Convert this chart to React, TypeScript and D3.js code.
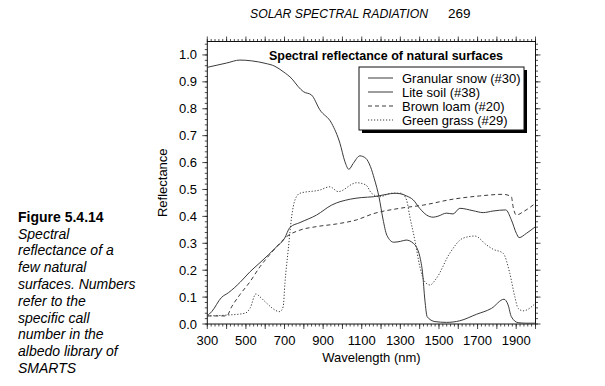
import React from 'react';
import * as d3 from 'd3';

// reflectance curves (wavelength nm / reflectance)
const snowWl = [300, 350, 400, 469, 530, 599, 650, 693, 740, 771, 797, 840, 883, 944, 987, 1013, 1033, 1056, 1090, 1121, 1145, 1165, 1190, 1210, 1230, 1265, 1300, 1330, 1367, 1384, 1401, 1415, 1427, 1439, 1479, 1539, 1608, 1694, 1772, 1837, 1858, 1875, 1910, 1950, 2000];
const snowR = [0.954, 0.962, 0.97, 0.981, 0.978, 0.969, 0.958, 0.938, 0.91, 0.882, 0.864, 0.851, 0.796, 0.746, 0.672, 0.603, 0.575, 0.597, 0.625, 0.616, 0.585, 0.54, 0.47, 0.39, 0.33, 0.304, 0.307, 0.312, 0.3, 0.285, 0.25, 0.19, 0.089, 0.027, 0.009, 0.006, 0.012, 0.036, 0.058, 0.092, 0.071, 0.027, 0.005, 0.003, 0.003];

const soilWl = [300, 323, 374, 409, 470, 521, 573, 659, 700, 728, 780, 866, 944, 1041, 1100, 1160, 1229, 1271, 1300, 1332, 1367, 1400, 1436, 1470, 1496, 1539, 1573, 1608, 1677, 1729, 1780, 1846, 1875, 1901, 1915, 1953, 2000];
const soilR = [0.03, 0.046, 0.099, 0.116, 0.155, 0.194, 0.228, 0.287, 0.318, 0.359, 0.377, 0.405, 0.442, 0.464, 0.47, 0.473, 0.482, 0.486, 0.484, 0.476, 0.461, 0.43, 0.405, 0.397, 0.401, 0.412, 0.409, 0.43, 0.421, 0.414, 0.42, 0.424, 0.387, 0.337, 0.321, 0.337, 0.362];

const loamWl = [300, 400, 426, 470, 521, 573, 620, 659, 711, 780, 866, 970, 1073, 1160, 1297, 1419, 1573, 1711, 1832, 1875, 1884, 1901, 1936, 2000];
const loamR = [0.03, 0.03, 0.064, 0.11, 0.157, 0.213, 0.255, 0.287, 0.325, 0.349, 0.362, 0.372, 0.387, 0.41, 0.43, 0.442, 0.464, 0.476, 0.482, 0.473, 0.436, 0.405, 0.417, 0.449];

const grassWl = [300, 400, 495, 521, 552, 573, 599, 676, 693, 702, 719, 737, 754, 780, 883, 935, 978, 1073, 1121, 1151, 1194, 1254, 1306, 1332, 1349, 1375, 1401, 1427, 1453, 1487, 1556, 1625, 1686, 1746, 1780, 1832, 1867, 1893, 1910, 1936, 2000];
const grassR = [0.03, 0.033, 0.04, 0.058, 0.112, 0.101, 0.083, 0.046, 0.064, 0.151, 0.275, 0.399, 0.461, 0.486, 0.498, 0.51, 0.492, 0.525, 0.517, 0.486, 0.473, 0.486, 0.486, 0.461, 0.399, 0.312, 0.213, 0.157, 0.145, 0.17, 0.263, 0.319, 0.327, 0.294, 0.278, 0.263, 0.188, 0.101, 0.058, 0.049, 0.077];

const seriesNames = ['Granular snow (#30)', 'Lite soil (#38)', 'Brown loam (#20)', 'Green grass (#29)'];
const xTickLabels = [300, 500, 700, 900, 1100, 1300, 1500, 1700, 1900];
const yTickLabels = [0, 0.1, 0.2, 0.3, 0.4, 0.5, 0.6, 0.7, 0.8, 0.9, 1.0];

const captionLines = ['Spectral', 'reflectance of a', 'few natural', 'surfaces. Numbers', 'refer to the', 'specific call', 'number in the', 'albedo library of', 'SMARTS'];

const FONT = '"Liberation Sans", Arial, Helvetica, sans-serif';
const INK = '#3a3a3a';

export default function App() {
  const left = 207.3, right = 535.5, top = 41.5, bottom = 324;
  const x = d3.scaleLinear().domain([300, 2000]).range([left, right]);
  const y = d3.scaleLinear().domain([0, 1.05]).range([bottom, top]);

  const line = d3
    .line<[number, number]>()
    .x((d) => x(d[0]))
    .y((d) => y(d[1]))
    .curve(d3.curveMonotoneX);

  const series = [
    { wl: snowWl, r: snowR, dash: null },
    { wl: soilWl, r: soilR, dash: null },
    { wl: loamWl, r: loamR, dash: '4,3' },
    { wl: grassWl, r: grassR, dash: '1.2,1.8' },
  ];

  const xMinor = d3.range(300, 2001, 20);
  const xMajor = d3.range(300, 2001, 100);
  const yMinor = d3.range(0, 1.041, 0.02);
  const yMajor = d3.range(0, 1.001, 0.1);

  const legX = 359, legY = 67, legW = 165, legH = 63;

  return (
    <svg width={605} height={386} style={{ position: 'absolute', left: 0, top: 0 }} fontFamily={FONT}>
      <rect width={605} height={386} fill="#fff" />

      {/* running header */}
      <text x={250} y={18} fontSize={13.5} fontStyle="italic" textLength={178} lengthAdjust="spacingAndGlyphs">SOLAR SPECTRAL RADIATION</text>
      <text x={448} y={18} fontSize={13.5}>269</text>

      {/* caption */}
      <text x={18} y={222} fontSize={14} fontWeight="bold">Figure 5.4.14</text>
      {captionLines.map((t, i) => (
        <text key={t} x={18} y={238.5 + i * 16.8} fontSize={14} fontStyle="italic">{t}</text>
      ))}

      {/* ticks */}
      <g stroke="#222" strokeWidth={0.8}>
        {xMinor.map((v) => (
          <g key={'xm' + v}>
            <line x1={x(v)} x2={x(v)} y1={bottom} y2={bottom + 2.5} />
            <line x1={x(v)} x2={x(v)} y1={top} y2={top - 2.5} />
          </g>
        ))}
        {xMajor.map((v) => (
          <g key={'xM' + v}>
            <line x1={x(v)} x2={x(v)} y1={bottom} y2={bottom + 5} />
            <line x1={x(v)} x2={x(v)} y1={top} y2={top - 5} />
          </g>
        ))}
        {yMinor.map((v) => (
          <g key={'ym' + v}>
            <line x1={left} x2={left - 2.5} y1={y(v)} y2={y(v)} />
            <line x1={right} x2={right + 2.5} y1={y(v)} y2={y(v)} />
          </g>
        ))}
        {yMajor.map((v) => (
          <g key={'yM' + v}>
            <line x1={left} x2={left - 5} y1={y(v)} y2={y(v)} />
            <line x1={right} x2={right + 5} y1={y(v)} y2={y(v)} />
          </g>
        ))}
      </g>

      {/* frame */}
      <rect x={left} y={top} width={right - left} height={bottom - top} fill="none" stroke="#111" strokeWidth={1} />

      {/* tick labels */}
      {xTickLabels.map((v) => (
        <text key={'xl' + v} x={x(v)} y={345} fontSize={13} textAnchor="middle">{v}</text>
      ))}
      {yTickLabels.map((v) => (
        <text key={'yl' + v} x={197} y={y(v) + 4.5} fontSize={13} textAnchor="end">{v.toFixed(1)}</text>
      ))}

      {/* axis titles */}
      <text x={(left + right) / 2} y={362} fontSize={13} textAnchor="middle">Wavelength (nm)</text>
      <text transform={`translate(167,${(top + bottom) / 2}) rotate(-90)`} fontSize={13} textAnchor="middle">Reflectance</text>

      {/* curves */}
      {series.map((s, i) => (
        <path
          key={seriesNames[i]}
          d={line(s.wl.map((w, j) => [w, s.r[j]] as [number, number])) || ''}
          fill="none"
          stroke={INK}
          strokeWidth={1}
          strokeDasharray={s.dash || undefined}
        />
      ))}

      {/* title */}
      <text x={386} y={60} fontSize={12.5} fontWeight="bold" textAnchor="middle">Spectral reflectance of natural surfaces</text>

      {/* legend */}
      <rect x={legX + 3} y={legY + 3} width={legW} height={legH} fill="#000" />
      <rect x={legX} y={legY} width={legW} height={legH} fill="#fff" stroke="#111" strokeWidth={1} />
      {seriesNames.map((n, i) => (
        <g key={'lg' + n}>
          <line x1={368} x2={393} y1={78 + i * 14} y2={78 + i * 14} stroke={INK} strokeWidth={1} strokeDasharray={series[i].dash || undefined} />
          <text x={402} y={82.5 + i * 14} fontSize={13}>{n}</text>
        </g>
      ))}
    </svg>
  );
}
